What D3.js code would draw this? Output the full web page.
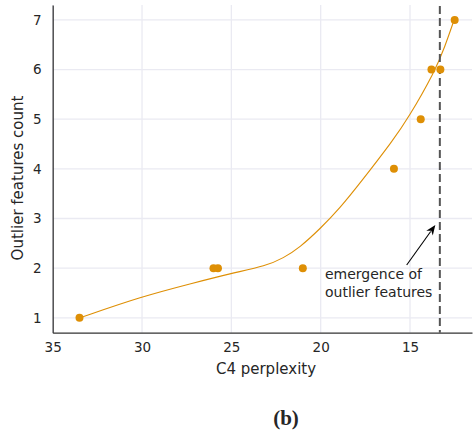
<!DOCTYPE html>
<html>
<head>
<meta charset="utf-8">
<script src="https://cdn.jsdelivr.net/npm/d3@7"></script>
<style>
  body { margin: 0; background: #fff; }
  svg text { font-family: "DejaVu Sans", sans-serif; fill: #262626; }
</style>
</head>
<body>
<svg id="chart" width="474" height="433"></svg>
<script>
// data
var perplexity = [33.5, 26.0, 25.75, 21.0, 15.9, 14.4, 13.8, 13.3, 12.5];
var outlierCount = [1, 2, 2, 2, 4, 5, 6, 6, 7];
// fitted curve
var fitX = [33.47, 30.02, 27.13, 25.08, 23.02, 22.10, 21.16, 20.04, 18.92, 17.80, 15.94, 15.10, 13.61, 13.05, 12.54];
var fitY = [1.00, 1.43, 1.70, 1.89, 2.05, 2.20, 2.42, 2.79, 3.21, 3.71, 4.58, 5.02, 5.96, 6.46, 6.99];
var xTicks = [35, 30, 25, 20, 15];
var yTicks = [1, 2, 3, 4, 5, 6, 7];
var emergenceAt = 13.33;

var orange = "#de8f05";
var svg = d3.select("#chart");
var plotL = 52.7, plotR = 472, plotT = 5, plotB = 332.7;

var x = d3.scaleLinear().domain([35, 11.53]).range([plotL, plotR]);
var y = d3.scaleLinear().domain([0.7, 7.3]).range([plotB, plotT]);

// grid
svg.append("g").selectAll("line").data(xTicks).join("line")
  .attr("x1", d => x(d)).attr("x2", d => x(d))
  .attr("y1", plotT).attr("y2", plotB)
  .attr("stroke", "#eaeaf2").attr("stroke-width", 1.3);
svg.append("g").selectAll("line").data(yTicks).join("line")
  .attr("x1", plotL).attr("x2", plotR)
  .attr("y1", d => y(d)).attr("y2", d => y(d))
  .attr("stroke", "#eaeaf2").attr("stroke-width", 1.3);

// axes (no tick marks)
var xAxis = svg.append("g").attr("transform", "translate(0," + plotB + ")")
  .call(d3.axisBottom(x).tickValues(xTicks).tickFormat(d3.format("d")).tickSize(0).tickPadding(10));
var yAxis = svg.append("g").attr("transform", "translate(" + plotL + ",0)")
  .call(d3.axisLeft(y).tickValues(yTicks).tickFormat(d3.format("d")).tickSize(0).tickPadding(11));
[xAxis, yAxis].forEach(function(a) {
  a.select(".domain").attr("stroke", "#333").attr("stroke-width", 1.25);
  a.selectAll("text").style("font-family", "DejaVu Sans").style("font-size", "13.5px").attr("fill", "#262626");
});

// fitted curve
var fit = fitX.map((v, i) => [v, fitY[i]]);
svg.append("path")
  .datum(fit)
  .attr("fill", "none")
  .attr("stroke", orange)
  .attr("stroke-width", 1.1)
  .attr("d", d3.line().x(d => x(d[0])).y(d => y(d[1])).curve(d3.curveBasis));

// emergence line
svg.append("line")
  .attr("x1", x(emergenceAt)).attr("x2", x(emergenceAt))
  .attr("y1", plotT + 1).attr("y2", plotB)
  .attr("stroke", "#555").attr("stroke-width", 2)
  .attr("stroke-dasharray", "8,4");

// points
svg.append("g").selectAll("circle").data(perplexity).join("circle")
  .attr("cx", d => x(d))
  .attr("cy", (d, i) => y(outlierCount[i]))
  .attr("r", 4)
  .attr("fill", orange);

// annotation
var ann = svg.append("text").attr("x", 325).attr("y", 279).style("font-size", "14px");
ann.append("tspan").attr("x", 325).text("emergence of");
ann.append("tspan").attr("x", 325).attr("dy", 18).text("outlier features");

var tipX = x(emergenceAt) - 4.5, tipY = y(2.87);
var tailX = 406.7, tailY = 265;
var ang = Math.atan2(tipY - tailY, tipX - tailX);
var hl = 10, hw = 4;
svg.append("line")
  .attr("x1", tailX).attr("y1", tailY)
  .attr("x2", tipX - Math.cos(ang) * hl * 0.8).attr("y2", tipY - Math.sin(ang) * hl * 0.8)
  .attr("stroke", "#000").attr("stroke-width", 1.1);
var bx = tipX - Math.cos(ang) * hl, by = tipY - Math.sin(ang) * hl;
svg.append("path")
  .attr("d", "M" + tipX + "," + tipY +
    "L" + (bx + Math.sin(ang) * hw) + "," + (by - Math.cos(ang) * hw) +
    "L" + (tipX - Math.cos(ang) * hl * 0.7) + "," + (tipY - Math.sin(ang) * hl * 0.7) +
    "L" + (bx - Math.sin(ang) * hw) + "," + (by + Math.cos(ang) * hw) + "Z")
  .attr("fill", "#000");

// axis labels
svg.append("text")
  .attr("x", 266).attr("y", 374.3)
  .attr("text-anchor", "middle")
  .style("font-size", "15px")
  .text("C4 perplexity");
svg.append("text")
  .attr("transform", "translate(23,178) rotate(-90)")
  .attr("text-anchor", "middle")
  .style("font-size", "15px")
  .text("Outlier features count");

// panel tag
svg.append("text")
  .attr("x", 286).attr("y", 425)
  .attr("text-anchor", "middle")
  .style("font-family", "Liberation Serif, serif")
  .style("font-weight", "bold")
  .style("font-size", "21px")
  .attr("fill", "#000")
  .text("(b)");
</script>
</body>
</html>
